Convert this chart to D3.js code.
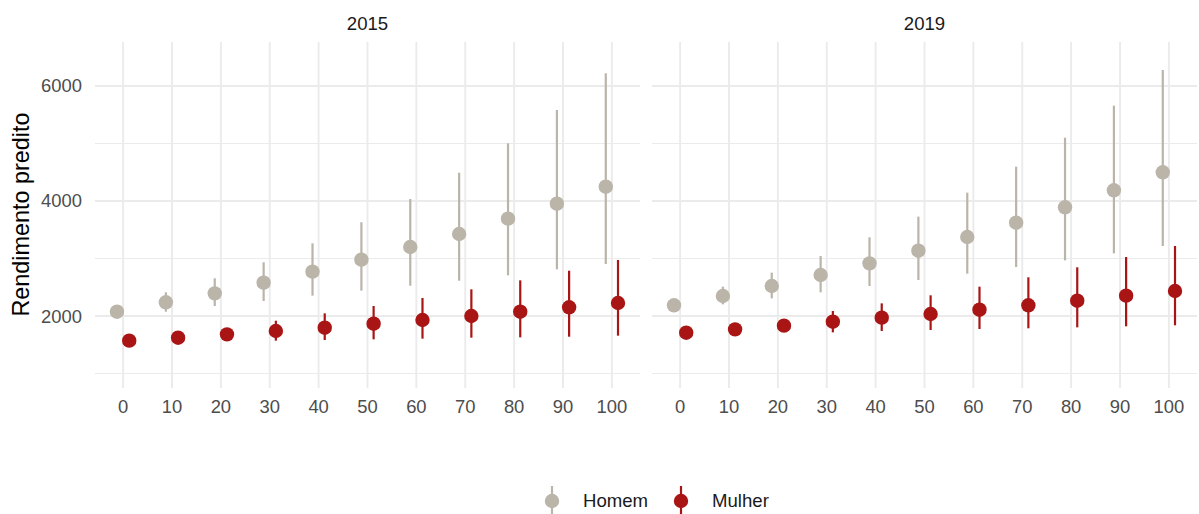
<!DOCTYPE html>
<html>
  <head>
    <meta charset="utf-8" />
    <title>Rendimento predito</title>
    <script src="https://d3js.org/d3.v7.min.js"></script>
    <style>
      body {
        margin: 0;
        font-family: "Liberation Sans", Arial, sans-serif;
        background: #fff;
      }
      .grid-major { stroke: #ebebeb; stroke-width: 1.9; }
      .grid-minor { stroke: #ebebeb; stroke-width: 1; }
      .tick-label { fill: #4d4d4d; font-size: 18.4px; }
      .strip { fill: #1a1a1a; font-size: 18.6px; }
    </style>
  </head>
  <body>
    <svg id="chart" width="1199" height="514"></svg>

    <script>
      // Data
      const years = ['2015', '2019'];
      const xValues = [0, 10, 20, 30, 40, 50, 60, 70, 80, 90, 100];
      const groups = ['Homem', 'Mulher'];
      const colors = { Homem: '#bab4a9', Mulher: '#a91515' };

      // 2015
      const homem2015 = [2075, 2238, 2394, 2580, 2771, 2980, 3200, 3426, 3693, 3953, 4249];
      const homem2015Low = [2020, 2075, 2174, 2261, 2354, 2441, 2527, 2614, 2707, 2812, 2904];
      const homem2015High = [2130, 2412, 2655, 2934, 3264, 3630, 4035, 4492, 5003, 5583, 6221];
      const mulher2015 = [1571, 1623, 1681, 1739, 1797, 1866, 1930, 2000, 2075, 2151, 2226];
      const mulher2015Low = [1530, 1570, 1610, 1571, 1583, 1594, 1606, 1623, 1629, 1640, 1658];
      const mulher2015High = [1610, 1680, 1750, 1918, 2046, 2174, 2313, 2464, 2620, 2788, 2974];

      // 2019
      const homem2019 = [2186, 2348, 2522, 2713, 2916, 3136, 3374, 3623, 3890, 4186, 4499];
      const homem2019Low = [2130, 2203, 2307, 2412, 2522, 2626, 2736, 2852, 2968, 3090, 3217];
      const homem2019High = [2240, 2510, 2754, 3043, 3368, 3728, 4145, 4597, 5101, 5658, 6278];
      const mulher2019 = [1710, 1768, 1832, 1901, 1971, 2035, 2110, 2186, 2266, 2354, 2435];
      const mulher2019Low = [1670, 1715, 1740, 1716, 1739, 1757, 1774, 1786, 1803, 1821, 1838];
      const mulher2019High = [1750, 1820, 1900, 2087, 2220, 2360, 2510, 2673, 2847, 3026, 3217];

      const yMajor = [2000, 4000, 6000];
      const yMinor = [1000, 3000, 5000];

      const series = {
        '2015': {
          Homem: { mid: homem2015, low: homem2015Low, high: homem2015High },
          Mulher: { mid: mulher2015, low: mulher2015Low, high: mulher2015High }
        },
        '2019': {
          Homem: { mid: homem2019, low: homem2019Low, high: homem2019High },
          Mulher: { mid: mulher2019, low: mulher2019Low, high: mulher2019High }
        }
      };

      const svg = d3.select('#chart');
      const panelTop = 42, panelBottom = 388;
      const panels = [
        { year: years[0], left: 95, right: 640 },
        { year: years[1], left: 652, right: 1197 }
      ];
      const dodge = { Homem: -1.25, Mulher: 1.25 };

      const y = d3.scaleLinear().domain([748, 6765]).range([panelBottom, panelTop]);

      panels.forEach(p => {
        const x = d3.scaleLinear().domain([-5.75, 105.75]).range([p.left, p.right]);
        const g = svg.append('g');

        // grid
        g.selectAll('.gm').data(yMinor).enter().append('line')
          .attr('class', 'grid-minor')
          .attr('x1', p.left).attr('x2', p.right)
          .attr('y1', d => y(d)).attr('y2', d => y(d));
        g.selectAll('.gM').data(yMajor).enter().append('line')
          .attr('class', 'grid-major')
          .attr('x1', p.left).attr('x2', p.right)
          .attr('y1', d => y(d)).attr('y2', d => y(d));
        g.selectAll('.gx').data(xValues).enter().append('line')
          .attr('class', 'grid-major')
          .attr('x1', d => x(d)).attr('x2', d => x(d))
          .attr('y1', panelTop).attr('y2', panelBottom);

        // x tick labels
        g.selectAll('.xl').data(xValues).enter().append('text')
          .attr('class', 'tick-label')
          .attr('x', d => x(d)).attr('y', 413)
          .attr('text-anchor', 'middle')
          .text(d => d);

        // strip title
        g.append('text')
          .attr('class', 'strip')
          .attr('x', (p.left + p.right) / 2).attr('y', 30)
          .attr('text-anchor', 'middle')
          .text(p.year);

        groups.forEach(grp => {
          const s = series[p.year][grp];
          const pts = xValues.map((v, i) => ({ x: v, mid: s.mid[i], low: s.low[i], high: s.high[i] }));
          g.selectAll('.eb-' + grp).data(pts).enter().append('line')
            .attr('x1', d => x(d.x + dodge[grp])).attr('x2', d => x(d.x + dodge[grp]))
            .attr('y1', d => y(d.low)).attr('y2', d => y(d.high))
            .attr('stroke', colors[grp]).attr('stroke-width', 2.2);
          g.selectAll('.pt-' + grp).data(pts).enter().append('circle')
            .attr('cx', d => x(d.x + dodge[grp]))
            .attr('cy', d => y(d.mid))
            .attr('r', 7.2)
            .attr('fill', colors[grp]);
        });
      });

      // y tick labels
      svg.selectAll('.yl').data(yMajor).enter().append('text')
        .attr('class', 'tick-label')
        .attr('x', 82).attr('y', d => y(d) + 6.5)
        .attr('text-anchor', 'end')
        .text(d => d);

      // y title
      svg.append('text')
        .attr('transform', `translate(29, 214.5) rotate(-90)`)
        .attr('text-anchor', 'middle')
        .attr('fill', '#000')
        .style('font-size', '23.4px')
        .text('Rendimento predito');

      // legend
      const legend = [
        { name: 'Homem', kx: 552, tx: 583 },
        { name: 'Mulher', kx: 681, tx: 712 }
      ];
      legend.forEach(l => {
        svg.append('line')
          .attr('x1', l.kx).attr('x2', l.kx)
          .attr('y1', 486).attr('y2', 514)
          .attr('stroke', colors[l.name]).attr('stroke-width', 2.2);
        svg.append('circle')
          .attr('cx', l.kx).attr('cy', 501).attr('r', 7.2)
          .attr('fill', colors[l.name]);
        svg.append('text')
          .attr('x', l.tx).attr('y', 507)
          .attr('fill', '#1a1a1a')
          .style('font-size', '18.6px')
          .text(l.name);
      });
    </script>
  </body>
</html>
